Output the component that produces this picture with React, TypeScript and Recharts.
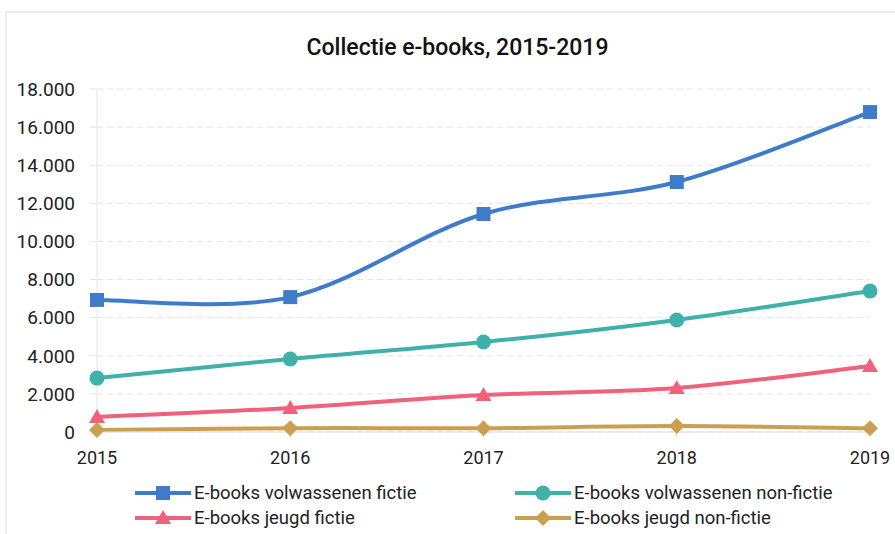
import React from 'react';
import { LineChart, Line, XAxis, YAxis, CartesianGrid } from 'recharts';

const years = ['2015', '2016', '2017', '2018', '2019'];
const volwassenenFictie = [6930, 7080, 11440, 13120, 16790];
const volwassenenNonFictie = [2830, 3830, 4720, 5880, 7400];
const jeugdFictie = [790, 1260, 1940, 2310, 3460];
const jeugdNonFictie = [100, 200, 200, 310, 200];
const yTicks = [0, 2000, 4000, 6000, 8000, 10000, 12000, 14000, 16000, 18000];

const data = years.map((year, i) => ({
  year,
  vf: volwassenenFictie[i],
  vnf: volwassenenNonFictie[i],
  jf: jeugdFictie[i],
  jnf: jeugdNonFictie[i],
}));

type Marker = 'square' | 'circle' | 'triangle' | 'diamond';

const SERIES: { key: string; name: string; color: string; marker: Marker }[] = [
  { key: 'vf', name: 'E-books volwassenen fictie', color: '#3e7cc9', marker: 'square' },
  { key: 'vnf', name: 'E-books volwassenen non-fictie', color: '#3fb1a8', marker: 'circle' },
  { key: 'jf', name: 'E-books jeugd fictie', color: '#f0617b', marker: 'triangle' },
  { key: 'jnf', name: 'E-books jeugd non-fictie', color: '#cb9f52', marker: 'diamond' },
];

// smooth line like a spreadsheet (catmull-rom through the points)
const smoothCurve = (context: any) => {
  let pts: number[][] = [];
  return {
    areaStart() {},
    areaEnd() {},
    lineStart() { pts = []; },
    point(x: number, y: number) { pts.push([+x, +y]); },
    lineEnd() {
      if (!pts.length) return;
      context.moveTo(pts[0][0], pts[0][1]);
      for (let i = 0; i < pts.length - 1; i++) {
        const p0 = pts[i - 1] || pts[i];
        const p1 = pts[i];
        const p2 = pts[i + 1];
        const p3 = pts[i + 2] || p2;
        context.bezierCurveTo(
          p1[0] + (p2[0] - p0[0]) / 6, p1[1] + (p2[1] - p0[1]) / 6,
          p2[0] - (p3[0] - p1[0]) / 6, p2[1] - (p3[1] - p1[1]) / 6,
          p2[0], p2[1]
        );
      }
    },
  };
};

const drawMarker = (marker: Marker, cx: number, cy: number, color: string, key?: any) => {
  if (marker === 'square') return <rect key={key} x={cx - 7} y={cy - 7} width={14} height={14} fill={color} />;
  if (marker === 'circle') return <circle key={key} cx={cx} cy={cy} r={7.5} fill={color} />;
  if (marker === 'triangle')
    return <path key={key} d={`M${cx},${cy - 8} L${cx + 8},${cy + 6} L${cx - 8},${cy + 6} Z`} fill={color} />;
  return <path key={key} d={`M${cx},${cy - 8} L${cx + 8},${cy} L${cx},${cy + 8} L${cx - 8},${cy} Z`} fill={color} />;
};

const fmt = (v: number) => String(v).replace(/\B(?=(\d{3})+(?!\d))/g, '.');

const LegendItem = ({ s }: { s: typeof SERIES[number] }) => (
  <div style={{ display: 'flex', alignItems: 'center', height: 25 }}>
    <svg width={56} height={18} style={{ marginRight: 3 }}>
      <line x1={0} y1={9} x2={56} y2={9} stroke={s.color} strokeWidth={4} />
      {drawMarker(s.marker, 28, 9, s.color)}
    </svg>
    <span>{s.name}</span>
  </div>
);

export default function App() {
  return (
    <div style={{ position: 'absolute', left: 0, top: 0, width: 895, height: 534, overflow: 'hidden', background: '#fff', fontFamily: 'Roboto, sans-serif', color: '#222' }}>
      <div style={{ position: 'absolute', left: 5, top: 11, width: 900, height: 540, border: '2px solid #ececec' }} />
      <div style={{ position: 'absolute', left: 0, top: 34, width: 915, textAlign: 'center', fontSize: 23, fontWeight: 500, color: '#111' }}>
        Collectie e-books, 2015-2019
      </div>
      <div style={{ position: 'absolute', left: 0, top: 0 }}>
        <LineChart width={895} height={534} data={data} margin={{ top: 89, right: 25, bottom: 72, left: 0 }}>
          <CartesianGrid vertical={false} stroke="#e4e4e4" strokeDasharray="6 4" />
          <XAxis
            dataKey="year"
            height={30}
            stroke="#dddddd"
            tickSize={5}
            tickMargin={14}
            tick={{ fill: '#222', fontSize: 18 }}
          />
          <YAxis
            width={97}
            domain={[0, 18000]}
            ticks={yTicks}
            tickFormatter={fmt}
            stroke="#e4e4e4"
            tickLine={{ stroke: '#e4e4e4', strokeDasharray: '6 4' }}
            tickSize={7}
            tickMargin={15}
            tick={{ fill: '#222', fontSize: 19 }}
          />
          {SERIES.map((s) => (
            <Line
              key={s.key}
              dataKey={s.key}
              name={s.name}
              type={smoothCurve as any}
              stroke={s.color}
              strokeWidth={4}
              isAnimationActive={false}
              dot={(p: any) => drawMarker(s.marker, p.cx, p.cy, s.color, `${s.key}-${p.index}`)}
              activeDot={false}
            />
          ))}
        </LineChart>
      </div>
      <div style={{ position: 'absolute', left: 135, top: 480, display: 'grid', gridTemplateColumns: '380px 330px', fontSize: 18.5 }}>
        {SERIES.map((s) => <LegendItem key={s.key} s={s} />)}
      </div>
    </div>
  );
}
